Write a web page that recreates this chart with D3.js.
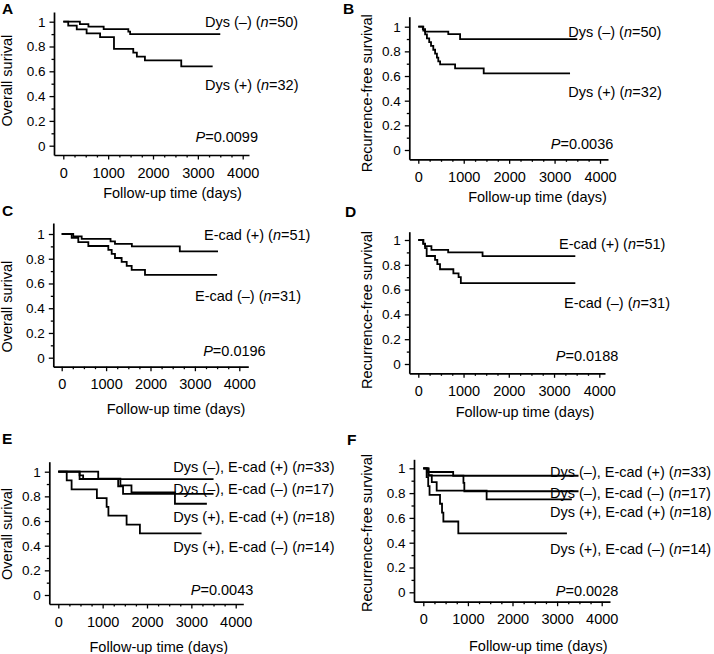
<!DOCTYPE html>
<html><head><meta charset="utf-8">
<script src="https://cdn.jsdelivr.net/npm/d3@7/dist/d3.min.js"></script>
<style>
html,body{margin:0;padding:0;background:#fff;}
svg{display:block;font-family:"Liberation Sans",Arial,Helvetica,sans-serif;}
</style></head><body>
<svg id="chart" width="714" height="654"></svg>
<script>
// ---------- data ----------
const xTicks = [0, 1000, 2000, 3000, 4000];
const xMinorTicks = [250, 500, 750, 1250, 1500, 1750, 2250, 2500, 2750, 3250, 3500, 3750];
const yTicks = [0, 0.2, 0.4, 0.6, 0.8, 1];
const yTickLabels = ["0", "0.2", "0.4", "0.6", "0.8", "1"];
const yMinorTicks = [0.1, 0.3, 0.5, 0.7, 0.9];
const panelLetters = ["A", "B", "C", "D", "E", "F"];
const yTitles = ["Overall surival", "Recurrence-free survival"];
const xTitle = "Follow-up time (days)";
const pValues = ["0.0099", "0.0036", "0.0196", "0.0188", "0.0043", "0.0028"];

// Panel A: overall survival by dysadherin
const aNegTime = [0, 370, 560, 900, 1450, 1490, 3500];
const aNegSurv = [1, 0.98, 0.96, 0.94, 0.92, 0.90, 0.90];
const aPosTime = [0, 110, 300, 520, 820, 1130, 1560, 1640, 1820, 2630, 3330];
const aPosSurv = [1, 0.969, 0.938, 0.906, 0.875, 0.781, 0.75, 0.719, 0.688, 0.64, 0.64];
// Panel B: recurrence-free survival by dysadherin
const bNegTime = [0, 100, 150, 660, 920, 3500];
const bNegSurv = [1, 0.98, 0.96, 0.94, 0.90, 0.90];
const bPosTime = [0, 110, 150, 190, 240, 280, 330, 370, 410, 440, 480, 810, 1440, 3340];
const bPosSurv = [1, 0.969, 0.938, 0.906, 0.875, 0.844, 0.813, 0.781, 0.75, 0.719, 0.695, 0.662, 0.622, 0.622];
// Panel C: overall survival by E-cadherin
const cPosTime = [0, 260, 450, 1100, 1200, 1580, 2660, 3520];
const cPosSurv = [1, 0.98, 0.96, 0.94, 0.92, 0.90, 0.86, 0.86];
const cNegTime = [0, 225, 374, 600, 1050, 1126, 1200, 1350, 1464, 1576, 1876, 3500];
const cNegSurv = [1, 0.968, 0.935, 0.903, 0.871, 0.839, 0.806, 0.774, 0.742, 0.71, 0.669, 0.669];
// Panel D: recurrence-free survival by E-cadherin
const dPosTime = [0, 110, 150, 290, 660, 1420, 3470];
const dPosSurv = [1, 0.97, 0.95, 0.92, 0.90, 0.87, 0.87];
const dNegTime = [0, 110, 150, 185, 370, 420, 480, 775, 890, 940, 3470];
const dNegSurv = [1, 0.968, 0.935, 0.871, 0.839, 0.806, 0.764, 0.731, 0.70, 0.652, 0.652];
// Panel E: overall survival, combined groups
const e1Time = [0, 480, 560, 3500];
const e1Surv = [1, 0.97, 0.94, 0.94];
const e2Time = [0, 480, 1350, 1460, 3500];
const e2Surv = [1, 0.941, 0.882, 0.82, 0.82];
const e3Time = [0, 900, 1400, 1650, 2630, 3350];
const e3Surv = [1, 0.944, 0.889, 0.833, 0.74, 0.74];
const e4Time = [0, 190, 300, 870, 1090, 1130, 1540, 1840, 3230];
const e4Surv = [1, 0.929, 0.857, 0.786, 0.714, 0.643, 0.571, 0.5, 0.5];
// Panel F: recurrence-free survival, combined groups
const f1Time = [0, 80, 670, 3480];
const f1Surv = [1, 0.97, 0.94, 0.94];
const f2Time = [0, 120, 900, 920, 3480];
const f2Surv = [1, 0.941, 0.882, 0.815, 0.815];
const f3Time = [0, 110, 190, 300, 1420, 3330];
const f3Surv = [1, 0.944, 0.889, 0.82, 0.75, 0.75];
const f4Time = [0, 75, 110, 140, 375, 420, 450, 785, 3220];
const f4Surv = [1, 0.929, 0.857, 0.786, 0.714, 0.643, 0.571, 0.476, 0.476];

const dysLabels = ["Dys (–)", "Dys (+)"];
const dysN = [50, 32];
const ecadLabels = ["E-cad (+)", "E-cad (–)"];
const ecadN = [51, 31];
const comboLabels = ["Dys (–), E-cad (+)", "Dys (–), E-cad (–)", "Dys (+), E-cad (+)", "Dys (+), E-cad (–)"];
const comboN = [33, 17, 18, 14];

// ---------- layout ----------
const zip = (t, s) => t.map((d, i) => [d, s[i]]);
const panels = [
  { letter: panelLetters[0], lx: 2, ly: 14, x0: 63.3, x4: 242.7, y1: 21.7, y0: 145.7, axX: 54, axY: 155, axTop: 12, axRight: 249,
    yTitle: yTitles[0], ytx: 11.5, yty: 80.7, xtx: 172.5, xty: 193,
    series: [zip(aNegTime, aNegSurv), zip(aPosTime, aPosSurv)],
    labels: [[dysLabels[0], dysN[0], 205, 21.7], [dysLabels[1], dysN[1], 205, 85]],
    p: [pValues[0], 258, 137] },
  { letter: panelLetters[1], lx: 343, ly: 14, x0: 418.3, x4: 600, y1: 26.7, y0: 150, axX: 409.3, axY: 159.3, axTop: 16.7, axRight: 608,
    yTitle: yTitles[1], ytx: 371.5, yty: 93.3, xtx: 537.5, xty: 197,
    series: [zip(bNegTime, bNegSurv), zip(bPosTime, bPosSurv)],
    labels: [[dysLabels[0], dysN[0], 568.3, 31.7], [dysLabels[1], dysN[1], 568.3, 91.7]],
    p: [pValues[1], 613.3, 143.3] },
  { letter: panelLetters[2], lx: 2, ly: 216, x0: 61.7, x4: 239.3, y1: 234, y0: 357.7, axX: 53.3, axY: 366.7, axTop: 223, axRight: 248.3,
    yTitle: yTitles[0], ytx: 11.5, yty: 306.7, xtx: 176, xty: 408.3,
    series: [zip(cPosTime, cPosSurv), zip(cNegTime, cNegSurv)],
    labels: [[ecadLabels[0], ecadN[0], 204, 235], [ecadLabels[1], ecadN[1], 195, 296]],
    p: [pValues[2], 265.7, 350.7] },
  { letter: panelLetters[3], lx: 345, ly: 217, x0: 418.3, x4: 599.3, y1: 240, y0: 364, axX: 409.3, axY: 373.3, axTop: 231.7, axRight: 605,
    yTitle: yTitles[1], ytx: 371.5, yty: 310, xtx: 525, xty: 411.7,
    series: [zip(dPosTime, dPosSurv), zip(dNegTime, dNegSurv)],
    labels: [[ecadLabels[0], ecadN[0], 559, 243.3], [ecadLabels[1], ecadN[1], 564, 302.7]],
    p: [pValues[3], 618.3, 355.7] },
  { letter: panelLetters[4], lx: 2, ly: 444, x0: 58.3, x4: 235.7, y1: 471.7, y0: 595, axX: 49.3, axY: 604, axTop: 461.7, axRight: 243.3,
    yTitle: yTitles[0], ytx: 11.5, yty: 534, xtx: 158.8, xty: 646.7,
    series: [zip(e1Time, e1Surv), zip(e2Time, e2Surv), zip(e3Time, e3Surv), zip(e4Time, e4Surv)],
    labels: comboLabels.map((l, i) => [l, comboN[i], 173.3, [466.7, 488.3, 516.7, 546.7][i]]),
    p: [pValues[4], 253.3, 590] },
  { letter: panelLetters[5], lx: 347, ly: 445, x0: 423.3, x4: 601.7, y1: 468.3, y0: 592.3, axX: 414, axY: 601.7, axTop: 459.3, axRight: 610,
    yTitle: yTitles[1], ytx: 371.5, yty: 533, xtx: 538.3, xty: 646,
    series: [zip(f1Time, f1Surv), zip(f2Time, f2Surv), zip(f3Time, f3Surv), zip(f4Time, f4Surv)],
    labels: comboLabels.map((l, i) => [l, comboN[i], 550, [471.7, 492.7, 511.7, 548.3][i]]),
    p: [pValues[5], 618.3, 591] }
];

const svg = d3.select("#chart");
const FS = 14.5;

panels.forEach(P => {
  const g = svg.append("g");
  const xs = d3.scaleLinear().domain([0, 4000]).range([P.x0, P.x4]);
  const ys = d3.scaleLinear().domain([0, 1]).range([P.y0, P.y1]);
  const xa = d3.scaleLinear().domain([xs.invert(P.axX), xs.invert(P.axRight)]).range([P.axX, P.axRight]);
  const ya = d3.scaleLinear().domain([ys.invert(P.axY), ys.invert(P.axTop)]).range([P.axY, P.axTop]);

  // minor ticks
  g.append("g").attr("transform", `translate(0,${P.axY})`)
    .call(d3.axisBottom(xa).tickValues(xMinorTicks).tickSize(2.5).tickFormat(""))
    .call(a => a.select(".domain").remove());
  g.append("g").attr("transform", `translate(${P.axX},0)`)
    .call(d3.axisLeft(ya).tickValues(yMinorTicks).tickSize(2.5).tickFormat(""))
    .call(a => a.select(".domain").remove());

  const xAxis = g.append("g").attr("transform", `translate(0,${P.axY})`)
    .call(d3.axisBottom(xa).tickValues(xTicks).tickSize(4.5).tickSizeOuter(0).tickPadding(8).tickFormat(d3.format("d")));
  const yAxis = g.append("g").attr("transform", `translate(${P.axX},0)`)
    .call(d3.axisLeft(ya).tickValues(yTicks).tickSize(4.5).tickSizeOuter(0).tickPadding(4)
      .tickFormat((d, i) => yTickLabels[i]));
  xAxis.selectAll("text").attr("font-size", 14.5);
  yAxis.selectAll("text").attr("font-size", 13.5);
  [xAxis, yAxis].forEach(a => {
    a.selectAll("text").attr("fill", "#000").attr("font-family", null);
    a.select(".domain").attr("stroke", "#000").attr("stroke-width", 1.7);
  });
  g.selectAll(".tick line").attr("stroke", "#000").attr("stroke-width", 1.3);

  // KM curves
  const line = d3.line().x(d => xs(d[0])).y(d => ys(d[1])).curve(d3.curveStepAfter);
  g.selectAll("path.km").data(P.series).join("path").attr("class", "km")
    .attr("d", line).attr("fill", "none").attr("stroke", "#000").attr("stroke-width", 1.8);

  // panel letter
  g.append("text").attr("x", P.lx).attr("y", P.ly).text(P.letter)
    .attr("font-size", 15.5).attr("font-weight", "bold");

  // y title
  g.append("text").attr("transform", `translate(${P.ytx},${P.yty}) rotate(-90)`)
    .attr("text-anchor", "middle").attr("font-size", FS).text(P.yTitle);
  // x title
  g.append("text").attr("x", P.xtx).attr("y", P.xty + 5.2)
    .attr("text-anchor", "middle").attr("font-size", FS).text(xTitle);

  // group labels
  P.labels.forEach(([lab, n, x, y]) => {
    const t = g.append("text").attr("x", x).attr("y", y + 5.2).attr("font-size", FS);
    t.append("tspan").text(lab + " (");
    t.append("tspan").attr("font-style", "italic").text("n");
    t.append("tspan").text("=" + n + ")");
  });
  // P value
  const pt = g.append("text").attr("x", P.p[1]).attr("y", P.p[2] + 5.2)
    .attr("text-anchor", "end").attr("font-size", FS);
  pt.append("tspan").attr("font-style", "italic").text("P");
  pt.append("tspan").text("=" + P.p[0]);
});
</script>
</body></html>
